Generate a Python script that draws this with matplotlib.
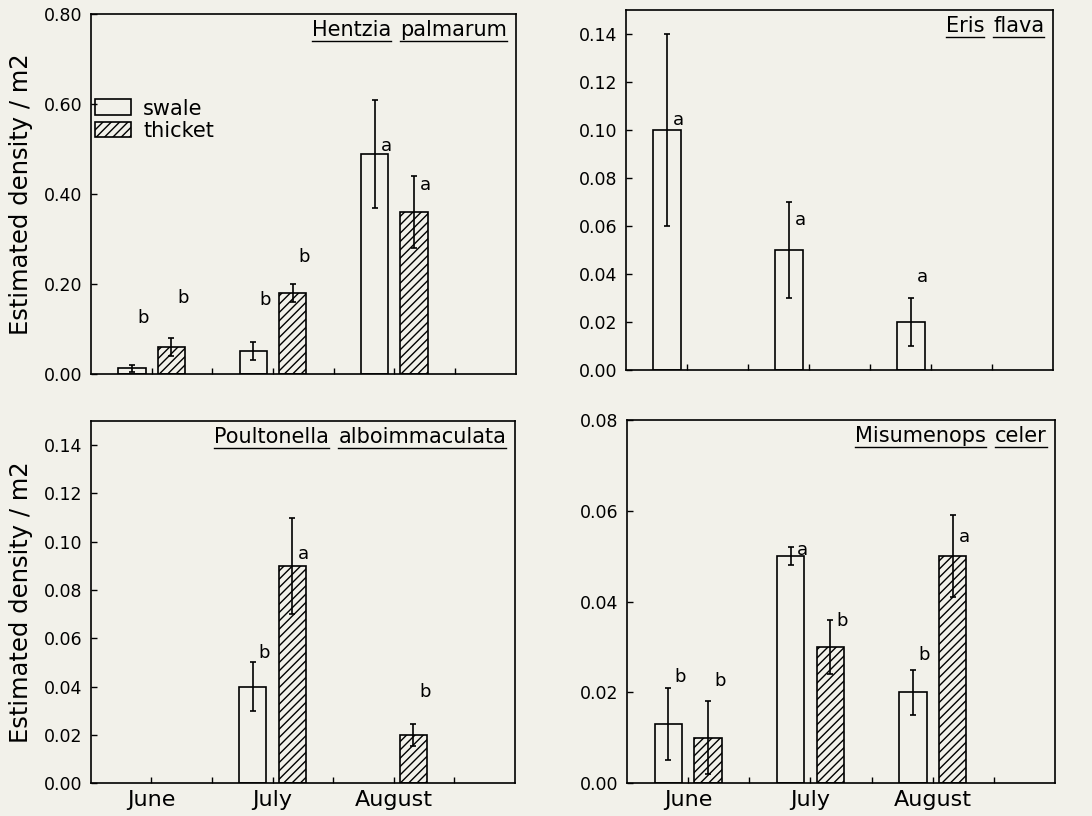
import numpy as np
import matplotlib
matplotlib.use("Agg")
import matplotlib.pyplot as plt
from matplotlib.patches import Patch
from matplotlib.ticker import FormatStrFormatter

nan = np.nan
BG = '#f2f1ea'

months = ['June', 'July', 'August']
group_x = [1, 3, 5]

# Hentzia palmarum
hen_swale = [0.013, 0.05, 0.49]
hen_swale_err = [0.008, 0.02, 0.12]
hen_thicket = [0.06, 0.18, 0.36]
hen_thicket_err = [0.02, 0.02, 0.08]
hen_swale_let = ['b', 'b', 'a']
hen_swale_let_y = [0.124, 0.165, 0.507]
hen_thicket_let = ['b', 'b', 'a']
hen_thicket_let_y = [0.17, 0.26, 0.42]

# Eris flava
eri_swale = [0.10, 0.05, 0.02]
eri_swale_err = [0.04, 0.02, 0.01]
eri_thicket = [nan, nan, nan]
eri_thicket_err = [nan, nan, nan]
eri_swale_let = ['a', 'a', 'a']
eri_swale_let_y = [0.104, 0.0625, 0.0386]
eri_thicket_let = [None, None, None]
eri_thicket_let_y = [nan, nan, nan]

# Poultonella alboimmaculata
pou_swale = [nan, 0.04, nan]
pou_swale_err = [nan, 0.01, nan]
pou_thicket = [nan, 0.09, 0.02]
pou_thicket_err = [nan, 0.02, 0.0045]
pou_swale_let = [None, 'b', None]
pou_swale_let_y = [nan, 0.054, nan]
pou_thicket_let = [None, 'a', 'b']
pou_thicket_let_y = [nan, 0.095, 0.0377]

# Misumenops celer
mis_swale = [0.013, 0.05, 0.02]
mis_swale_err = [0.008, 0.002, 0.005]
mis_thicket = [0.01, 0.03, 0.05]
mis_thicket_err = [0.008, 0.006, 0.009]
mis_swale_let = ['b', 'a', 'b']
mis_swale_let_y = [0.0233, 0.0513, 0.0283]
mis_thicket_let = ['b', 'b', 'a']
mis_thicket_let_y = [0.0225, 0.0357, 0.0542]

panels = [
    ('Hentzia palmarum', 0.80, 0.20, hen_swale, hen_swale_err, hen_thicket, hen_thicket_err,
     hen_swale_let, hen_swale_let_y, hen_thicket_let, hen_thicket_let_y),
    ('Eris flava', 0.15, 0.02, eri_swale, eri_swale_err, eri_thicket, eri_thicket_err,
     eri_swale_let, eri_swale_let_y, eri_thicket_let, eri_thicket_let_y),
    ('Poultonella alboimmaculata', 0.15, 0.02, pou_swale, pou_swale_err, pou_thicket, pou_thicket_err,
     pou_swale_let, pou_swale_let_y, pou_thicket_let, pou_thicket_let_y),
    ('Misumenops celer', 0.08, 0.02, mis_swale, mis_swale_err, mis_thicket, mis_thicket_err,
     mis_swale_let, mis_swale_let_y, mis_thicket_let, mis_thicket_let_y),
]

positions = [
    [0.0833, 0.5417, 0.389, 0.441],
    [0.5733, 0.5466, 0.391, 0.441],
    [0.0833, 0.0404, 0.388, 0.4436],
    [0.5742, 0.0404, 0.392, 0.4449],
]

OFF = 0.325
W = 0.45
LW = 1.2


def species_title(ax, name, size=15):
    # each word underlined on its own, placed right to left
    fig = ax.figure
    r = fig.canvas.get_renderer()
    inv = ax.transAxes.inverted()
    x = 0.98
    h_px = ax.get_window_extent(r).height
    w_px = ax.get_window_extent(r).width
    for word in reversed(name.split()):
        t = ax.text(x, 0.94, word, transform=ax.transAxes, ha='right',
                    va='baseline', fontsize=size)
        bb = t.get_window_extent(r)
        (x0, _), (x1, _) = inv.transform([[bb.x0, bb.y0], [bb.x1, bb.y1]])
        uy = 0.94 - 5.0 / h_px
        ax.plot([x0, x1], [uy, uy], transform=ax.transAxes, color='k',
                lw=1.0, clip_on=False)
        x = x0 - 9.0 / w_px


fig = plt.figure(figsize=(10.92, 8.16), dpi=100, facecolor=BG)

for i, (name, ymax, ystep, sw, swe, th, the, swl, swly, thl, thly) in enumerate(panels):
    ax = fig.add_axes(positions[i], facecolor=BG)
    for vals, errs, xoff, hatch in [(sw, swe, -OFF, None), (th, the, OFF, '////')]:
        xs = [g + xoff for g, v in zip(group_x, vals) if not np.isnan(v)]
        vs = [v for v in vals if not np.isnan(v)]
        es = [e for v, e in zip(vals, errs) if not np.isnan(v)]
        if not xs:
            continue
        ax.bar(xs, vs, width=W, facecolor='none', edgecolor='k', lw=LW,
               hatch=hatch, zorder=2)
        ax.errorbar(xs, vs, yerr=es, fmt='none', ecolor='k', elinewidth=LW,
                    capsize=2.5, capthick=LW, zorder=3)
    for lets, ly, xoff in [(swl, swly, -OFF), (thl, thly, OFF)]:
        for g, l, y in zip(group_x, lets, ly):
            if l is None:
                continue
            ax.text(g + xoff + 0.19, y, l, fontsize=13, ha='center', va='center')

    ax.set_xlim(0, 7)
    ax.set_ylim(0, ymax)
    ax.set_yticks(np.arange(0, ymax + 1e-9, ystep))
    ax.yaxis.set_major_formatter(FormatStrFormatter('%.2f'))
    ax.set_xticks([1, 2, 3, 4, 5, 6])
    if i >= 2:
        ax.set_xticklabels(['June', '', 'July', '', 'August', ''], fontsize=16)
    else:
        ax.set_xticklabels([])
    ax.tick_params(direction='in', length=4, width=1, labelsize=12.5, pad=6)
    ax.tick_params(axis='x', labelsize=16, pad=5)
    for s in ax.spines.values():
        s.set_linewidth(LW)
    if i % 2 == 0:
        ax.set_ylabel('Estimated density / m2', fontsize=17.5, labelpad=8)

    species_title(ax, name)

    if i == 0:
        handles = [Patch(facecolor='none', edgecolor='k', lw=LW, label='swale'),
                   Patch(facecolor='none', edgecolor='k', lw=LW, hatch='////', label='thicket')]
        ax.legend(handles=handles, loc='upper left', bbox_to_anchor=(0.01, 0.765),
                  frameon=False, fontsize=15, handlelength=1.7, handleheight=0.8,
                  handletextpad=0.6, labelspacing=0.1, borderpad=0, borderaxespad=0)

fig.savefig('out.png', dpi=100, facecolor=BG)
